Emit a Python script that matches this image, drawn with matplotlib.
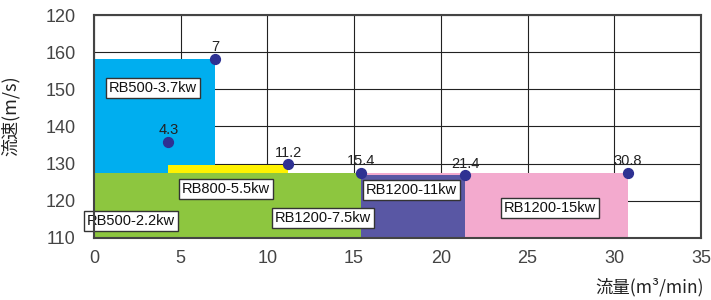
import matplotlib.pyplot as plt
from matplotlib.patches import Rectangle

plt.rcParams['font.family'] = ['Liberation Sans', 'Noto Sans CJK JP']

# 区域 (x0, x1, y0, y1)
zone_names = ['RB1200-15kw', 'RB1200-11kw', 'RB500-2.2kw', 'RB500-3.7kw', 'RB800-5.5kw']
zone_x0 = [15.4, 15.4, 0, 0, 4.3]
zone_x1 = [30.8, 21.4, 15.4, 7, 11.2]
zone_y0 = [110, 110, 110, 127.6, 127.6]
zone_y1 = [127.6, 126.9, 127.6, 158.2, 129.7]
zone_colors = ['#F3AACE', '#5957A4', '#8DC63F', '#00AEEF', '#FFF200']

# 标注框
box_text = ['RB500-3.7kw', 'RB500-2.2kw', 'RB800-5.5kw', 'RB1200-7.5kw', 'RB1200-11kw', 'RB1200-15kw']
box_x = [3.4, 2.13, 7.6, 13.2, 18.3, 26.3]
box_y = [150.3, 114.6, 123.2, 115.4, 122.9, 118.0]

# 数据点
pt_x = [4.3, 7, 11.2, 15.4, 21.4, 30.8]
pt_y = [135.9, 158.2, 129.8, 127.6, 126.8, 127.6]
pt_labels = ['4.3', '7', '11.2', '15.4', '21.4', '30.8']

y_ticks = [110, 120, 130, 140, 150, 160, 170]
y_ticklabels = ['110', '120', '130', '140', '150', '160', '120']
x_ticks = [0, 5, 10, 15, 20, 25, 30, 35]

fig = plt.figure(figsize=(7.11, 3.0), dpi=100)
ax = fig.add_axes([0.132, 0.207, 0.854, 0.743])

for x0, x1, y0, y1, c in zip(zone_x0, zone_x1, zone_y0, zone_y1, zone_colors):
    ax.add_patch(Rectangle((x0, y0), x1 - x0, y1 - y0, facecolor=c, edgecolor='none', zorder=2))

ax.scatter(pt_x, pt_y, s=50, color='#2E3192', zorder=4)
for x, y, t in zip(pt_x, pt_y, pt_labels):
    ax.text(x, y + 1.3, t, ha='center', va='bottom', fontsize=10.5, color='#222222', zorder=5)

for t, x, y in zip(box_text, box_x, box_y):
    ax.text(x, y, t, ha='center', va='center', fontsize=10.5, color='#111111', zorder=5,
            bbox=dict(boxstyle='square,pad=0.2', facecolor='white', edgecolor='#333333', linewidth=1))

ax.set_xlim(0, 35)
ax.set_ylim(110, 170)
ax.set_xticks(x_ticks)
ax.set_yticks(y_ticks)
ax.set_yticklabels(y_ticklabels)
ax.tick_params(length=0, labelsize=13, labelcolor='#444444')
ax.tick_params(axis='y', pad=13)
ax.tick_params(axis='x', pad=9)
ax.grid(True, color='#222222', linewidth=0.8, zorder=1)
ax.set_axisbelow(True)
for s in ax.spines.values():
    s.set_color('#444444')
    s.set_linewidth(1.5)
    s.set_zorder(6)

ax.set_ylabel('流速(m/s)', fontsize=13, color='#222222', family=['Noto Sans CJK JP'])
ax.yaxis.set_label_coords(-0.122, 0.55)
ax.set_xlabel('流量(m³/min)', fontsize=12.5, color='#222222', family=['Noto Sans CJK JP'])
ax.xaxis.set_label_coords(1.005, -0.18)
ax.xaxis.label.set_ha('right')

fig.savefig('out.png', dpi=100)
